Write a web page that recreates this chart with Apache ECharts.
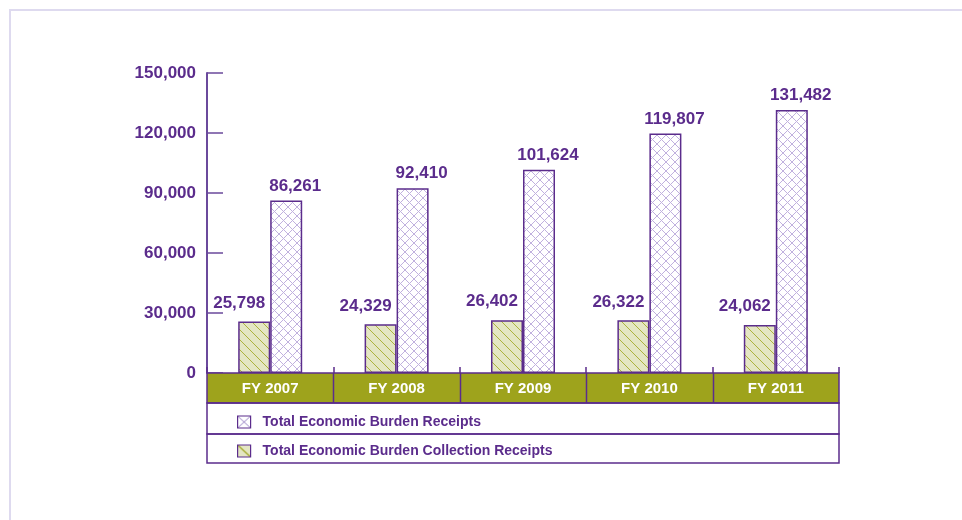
<!DOCTYPE html>
<html>
<head>
<meta charset="utf-8">
<script src="https://cdn.jsdelivr.net/npm/echarts@6/dist/echarts.min.js"></script>
<style>html,body{margin:0;padding:0;background:#fff;}#c{width:962px;height:520px;}</style>
</head>
<body>
<div id="c"></div>
<script>
var categories = ['FY 2007', 'FY 2008', 'FY 2009', 'FY 2010', 'FY 2011'];
var collectionReceipts = [25798, 24329, 26402, 26322, 24062];
var burdenReceipts = [86261, 92410, 101624, 119807, 131482];
var yTicks = [0, 30000, 60000, 90000, 120000, 150000];
var seriesNames = ['Total Economic Burden Collection Receipts', 'Total Economic Burden Receipts'];

var PURPLE = '#5b2c8c';
var AXIS = '#6b4a9c';
var OLIVE = '#9ea31c';
var FONT = '"Liberation Sans", Arial, sans-serif';
var NARROW = '"Liberation Sans Narrow", "Arial Narrow"';

// check whether a condensed font is installed
var hasNarrow = (function () {
  var c = document.createElement('canvas').getContext('2d');
  c.font = '18px ' + NARROW + ', monospace';
  var a = c.measureText('Total Economic Burden').width;
  c.font = '18px monospace';
  var b = c.measureText('Total Economic Burden').width;
  return Math.abs(a - b) > 1;
})();
var catFont = hasNarrow ? {fontFamily: NARROW + ', sans-serif', fontSize: 18, fontWeight: 'normal'} : {fontFamily: FONT, fontSize: 15, fontWeight: 'bold'};
var legFont = hasNarrow ? {fontFamily: NARROW + ', sans-serif', fontSize: 17} : {fontFamily: FONT, fontSize: 14};

function makeTile(w, h, bg, fg, draw) {
  var c = document.createElement('canvas');
  c.width = w; c.height = h;
  var g = c.getContext('2d');
  g.fillStyle = bg; g.fillRect(0, 0, w, h);
  g.strokeStyle = fg; g.lineWidth = 1;
  draw(g, w, h);
  return c;
}
var crossTile = makeTile(9, 9, '#ffffff', '#c0b1de', function (g, w, h) {
  g.beginPath();
  g.moveTo(-1, -1); g.lineTo(w + 1, h + 1);
  g.moveTo(w + 1, -1); g.lineTo(-1, h + 1);
  g.stroke();
});
var diagTile = makeTile(10, 10, '#e4e6c3', '#adb23e', function (g, w, h) {
  g.beginPath();
  g.moveTo(-1, -1); g.lineTo(w + 1, h + 1);
  g.moveTo(-1 - w, -1); g.lineTo(1, h + 1);
  g.moveTo(w - 1, -1); g.lineTo(2 * w + 1, h + 1);
  g.stroke();
});
var crossIcon = makeTile(13, 12, '#ffffff', '#9c88c6', function (g, w, h) {
  g.beginPath();
  g.moveTo(0, 0); g.lineTo(w, h);
  g.moveTo(w, 0); g.lineTo(0, h);
  g.stroke();
});
var diagIcon = makeTile(13, 12, '#e4e6c3', '#a9ae3a', function (g, w, h) {
  g.lineWidth = 1.5;
  g.beginPath();
  g.moveTo(0, 0); g.lineTo(w, h);
  g.stroke();
});

var GL = 207, GT = 73, GW = 632, GH = 300;
var chart = echarts.init(document.getElementById('c'), null, {renderer: 'canvas'});

var catW = GW / categories.length;
var graphics = [
  {type: 'rect', shape: {x: 10, y: 10, width: 1000, height: 600}, style: {fill: 'none', stroke: '#dedaef', lineWidth: 2}, z: 0},
  {type: 'rect', shape: {x: GL, y: GT + GH, width: GW, height: 30}, style: {fill: OLIVE, stroke: PURPLE, lineWidth: 1.5}, z: 1},
  {type: 'rect', shape: {x: GL, y: GT + GH + 30, width: GW, height: 31}, style: {fill: 'none', stroke: PURPLE, lineWidth: 1.5}, z: 1},
  {type: 'rect', shape: {x: GL, y: GT + GH + 61, width: GW, height: 29}, style: {fill: 'none', stroke: PURPLE, lineWidth: 1.5}, z: 1}
];
for (var i = 1; i < categories.length; i++) {
  var x = Math.round(GL + i * catW) + 0.5;
  graphics.push({type: 'line', shape: {x1: x, y1: GT + GH, x2: x, y2: GT + GH + 30}, style: {stroke: PURPLE, lineWidth: 1.5}, z: 1});
}

chart.setOption({
  animation: false,
  backgroundColor: '#ffffff',
  textStyle: {fontFamily: FONT},
  grid: {left: GL, top: GT, width: GW, height: GH, containLabel: false},
  graphic: {elements: graphics},
  legend: {
    orient: 'vertical',
    left: 232,
    top: 410,
    itemWidth: 13,
    itemHeight: 12,
    itemGap: 15,
    icon: 'rect',
    selectedMode: false,
    textStyle: {color: PURPLE, fontWeight: 'bold', fontSize: legFont.fontSize, lineHeight: 14, fontFamily: legFont.fontFamily, padding: [0, 0, 0, 7]},
    data: [
      {name: seriesNames[1], itemStyle: {color: {image: crossIcon, repeat: 'no-repeat'}, borderColor: PURPLE, borderWidth: 1.2}},
      {name: seriesNames[0], itemStyle: {color: {image: diagIcon, repeat: 'no-repeat'}, borderColor: PURPLE, borderWidth: 1.2}}
    ]
  },
  xAxis: {
    type: 'category',
    data: categories,
    z: 5,
    axisLine: {show: false},
    axisTick: {show: true, inside: true, length: 6, lineStyle: {color: PURPLE, width: 1.5}},
    axisLabel: {color: '#ffffff', fontSize: catFont.fontSize, fontWeight: catFont.fontWeight, margin: hasNarrow ? 7 : 8, fontFamily: catFont.fontFamily}
  },
  yAxis: {
    type: 'value',
    min: yTicks[0],
    max: yTicks[yTicks.length - 1],
    interval: yTicks[1] - yTicks[0],
    splitLine: {show: false},
    axisLine: {show: true, lineStyle: {color: AXIS, width: 2}},
    axisTick: {show: true, inside: true, length: 16, lineStyle: {color: AXIS, width: 1.5}},
    axisLabel: {
      color: PURPLE, fontWeight: 'bold', fontSize: 17, margin: 11,
      formatter: function (v) { return v.toLocaleString('en-US'); },
      showMinLabel: true
    }
  },
  series: [
    {
      name: seriesNames[0],
      type: 'bar',
      data: collectionReceipts,
      barWidth: 32,
      barGap: '0%',
      itemStyle: {color: {image: diagTile, repeat: 'repeat'}, borderColor: PURPLE, borderWidth: 1.5},
      label: {show: true, position: 'top', distance: 10, offset: [-15, 0], color: PURPLE, fontWeight: 'bold', fontSize: 17,
        formatter: function (p) { return p.value.toLocaleString('en-US'); }}
    },
    {
      name: seriesNames[1],
      type: 'bar',
      data: burdenReceipts,
      barWidth: 32,
      barGap: '0%',
      itemStyle: {color: {image: crossTile, repeat: 'repeat'}, borderColor: PURPLE, borderWidth: 1.5},
      label: {show: true, position: 'top', distance: 6, offset: [9, 0], color: PURPLE, fontWeight: 'bold', fontSize: 17,
        formatter: function (p) { return p.value.toLocaleString('en-US'); }}
    }
  ]
});
</script>
</body>
</html>
